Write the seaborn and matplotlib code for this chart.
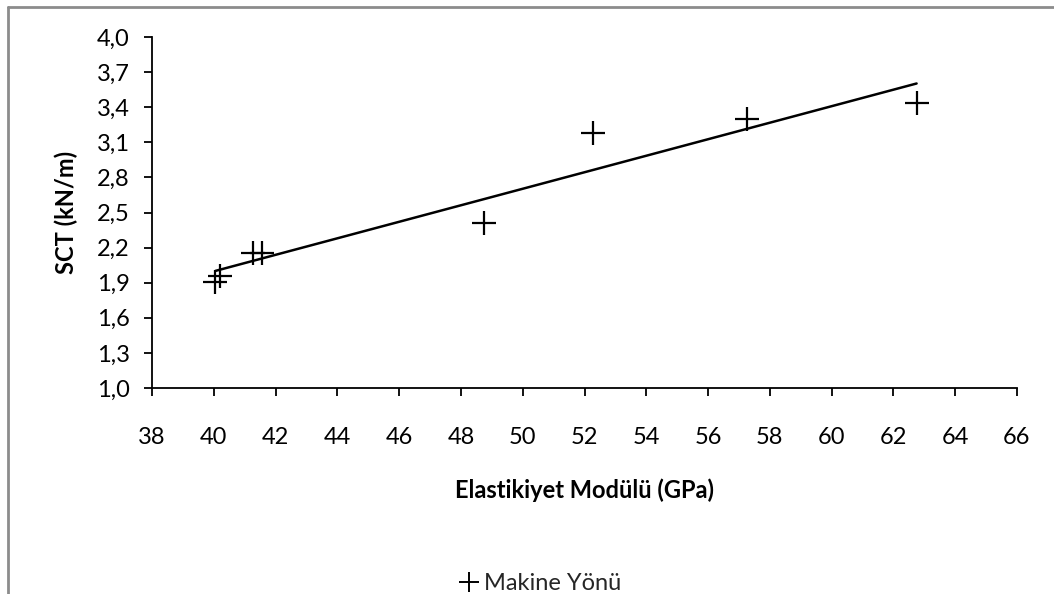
import numpy as np
import pandas as pd
import matplotlib
matplotlib.use("Agg")
import matplotlib.pyplot as plt
from matplotlib.ticker import FuncFormatter, MultipleLocator
from matplotlib.lines import Line2D
import seaborn as sns

# Elastic modulus (GPa) vs. short-span compression (kN/m), machine direction
modulus = [40.05, 40.2, 41.26, 41.55, 48.75, 52.28, 57.25, 62.75]
sct = [1.91, 1.96, 2.15, 2.15, 2.41, 3.18, 3.30, 3.44]
series_name = "Makine Yönü"
x_label = "Elastikiyet Modülü (GPa)"
y_label = "SCT (kN/m)"

df = pd.DataFrame({"E": modulus, "SCT": sct})

sns.set_theme(style="white")
plt.rcParams["font.family"] = ["Lato", "DejaVu Sans"]

fig = plt.figure(figsize=(10.54, 5.94), dpi=100)
ax = fig.add_axes([152 / 1054, 1 - 388 / 594, (1017 - 152) / 1054, (388 - 37) / 594])

sns.scatterplot(data=df, x="E", y="SCT", marker="+", s=280, color="black",
                linewidth=1.6, ax=ax, legend=False)
sns.regplot(data=df, x="E", y="SCT", scatter=False, ci=None, truncate=True,
            line_kws={"color": "black", "linewidth": 1.8}, ax=ax)

ax.set_xlim(38, 66)
ax.set_ylim(1.0, 4.0)
ax.xaxis.set_major_locator(MultipleLocator(2))
ax.set_yticks(np.round(np.arange(1.0, 4.01, 0.3), 1))
ax.yaxis.set_major_formatter(FuncFormatter(lambda v, p: f"{v:.1f}".replace(".", ",")))
ax.xaxis.set_major_formatter(FuncFormatter(lambda v, p: f"{v:.0f}"))

for side in ("top", "right"):
    ax.spines[side].set_visible(False)
for side in ("left", "bottom"):
    ax.spines[side].set_color("black")
    ax.spines[side].set_linewidth(1.3)

ax.tick_params(axis="both", which="major", direction="out", length=6, width=1.3,
               color="black", labelsize=17, labelcolor="black")
ax.tick_params(axis="x", pad=22, bottom=True)
ax.tick_params(axis="y", pad=10, left=True)

ax.set_xlabel(x_label, fontsize=17, fontweight="bold", color="black", va="center")
ax.set_ylabel(y_label, fontsize=17, fontweight="bold", color="black", va="center")
ax.xaxis.set_label_coords(0.5, -(490 - 388) / 351)
ax.yaxis.set_label_coords(-(152 - 66) / 865, 0.5)

handle = Line2D([], [], linestyle="none", marker="+", color="black",
                markersize=15, markeredgewidth=1.4)
fig.legend([handle], [series_name], loc="center", bbox_to_anchor=(540 / 1054, 1 - 584 / 594),
           frameon=False, fontsize=17, handletextpad=0.2, handlelength=0.9)

# Chart frame
fig.add_artist(Line2D([8 / 1054, 8 / 1054], [0, 1 - 7 / 594], transform=fig.transFigure,
                      color="#8c8c8c", linewidth=2))
fig.add_artist(Line2D([8 / 1054, 1], [1 - 7 / 594, 1 - 7 / 594], transform=fig.transFigure,
                      color="#8c8c8c", linewidth=2))

fig.savefig("out.png", dpi=100, facecolor="white")
